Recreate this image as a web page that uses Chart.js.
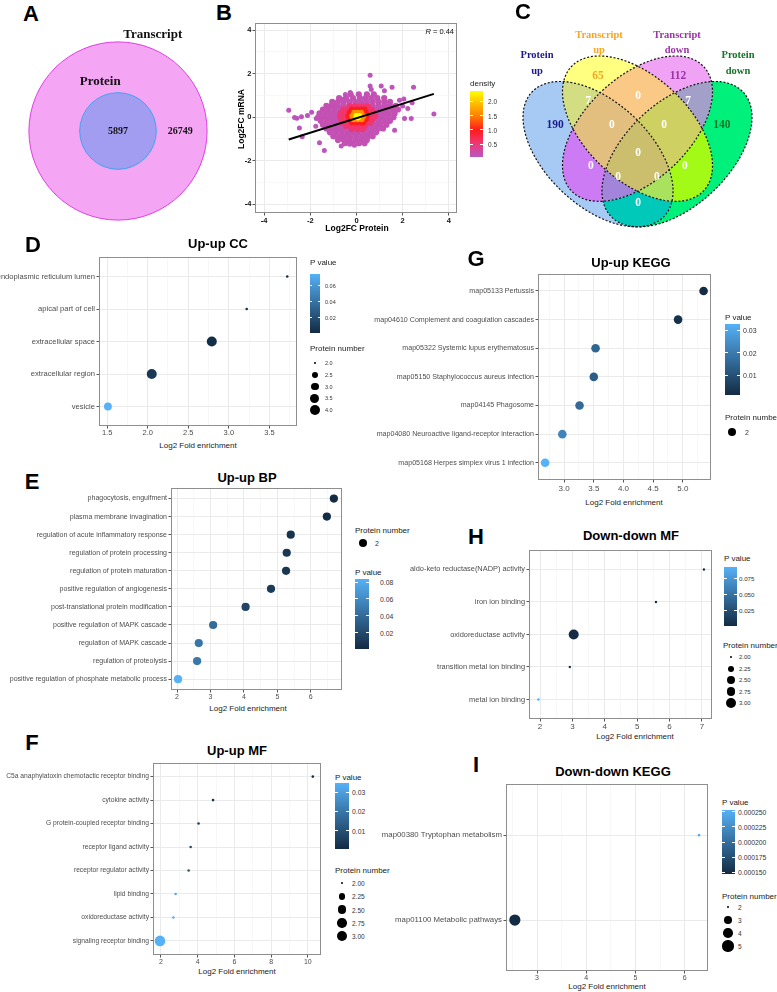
<!DOCTYPE html>
<html>
<head>
<meta charset="utf-8">
<script src="https://cdn.jsdelivr.net/npm/chart.js@4.4.1/dist/chart.umd.min.js"></script>
<style>
  html, body { margin: 0; padding: 0; background: #fff; }
  body { position: relative; width: 777px; height: 992px; overflow: hidden; font-family: "Liberation Sans", Arial, sans-serif; }
  canvas { position: absolute; }
  .t { position: absolute; white-space: nowrap; line-height: 1; }
</style>
</head>
<body>
<script>
// ---------------- data ----------------
// A: transcripts vs proteins
const aSets = ['Transcript', 'Protein'];
const aCounts = [26749, 5897];

// B: log2FC protein vs mRNA
const bTicks = [-4, -2, 0, 2, 4];
const bR = 0.44;
const bFitX = [-2.93, 3.35];
const bFitY = [-1.03, 1.07];
const bDensTicks = [0.5, 1.0, 1.5, 2.0];
const bOutliers = [[-2.93,0.32],[-2.68,-0.02],[-2.58,-0.05],[-2.47,-0.5],[-2.38,0.02],[-2.35,-0.9],[-2.12,0.08],[-1.94,0.22],
  [-1.76,-0.42],[-1.74,-0.06],[-1.55,-0.14],[-1.6,-1.18],[-1.39,-1.53],[-1.1,0.55],[-0.95,0.64],[-0.56,0.82],[-0.48,1.04],
  [-0.27,1.13],[0.59,1.93],[0.59,1.43],[0.64,1.27],[1.07,1.43],[1.21,1.21],[1.54,1.37],[1.86,0.78],[2.05,0.83],[2.22,0.4],
  [2.47,1.37],[2.41,0.66],[2.37,-0.06],[2.08,-0.06],[3.35,0.14],[1.65,-0.6],[1.43,0.55],[1.65,0.32],[2.0,0.51],[0.85,-0.45],
  [0.49,-0.83],[0.13,-1.21],[-0.45,-1.13],[-0.66,-1.33],[-0.09,-1.29],[0.35,-1.15],[-0.3,-1.25]];
const bBodyY = [1.05, 0.88, 0.7, 0.52, 0.35, 0.17, 0.0, -0.17, -0.35, -0.52, -0.7, -0.88, -1.05, -1.2];
const bBodyX = [
  [-0.25, 0.1, 0.45, 0.75],
  [-0.75, -0.45, -0.15, 0.15, 0.4, 0.65, 0.9, 1.2],
  [-1.05, -0.8, -0.55, -0.3, -0.05, 0.2, 0.45, 0.7, 0.95, 1.2, 1.45],
  [-1.3, -1.05, -0.8, -0.55, -0.3, -0.05, 0.2, 0.45, 0.7, 0.95, 1.2, 1.45, 1.7],
  [-1.45, -1.2, -0.95, -0.7, -0.45, -0.2, 0.05, 0.3, 0.55, 0.8, 1.05, 1.3, 1.55, 1.8],
  [-1.6, -1.35, -1.1, -0.85, -0.6, -0.35, -0.1, 0.15, 0.4, 0.65, 0.9, 1.15, 1.4, 1.65],
  [-1.65, -1.4, -1.15, -0.9, -0.65, -0.4, -0.15, 0.1, 0.35, 0.6, 0.85, 1.1, 1.35, 1.6],
  [-1.55, -1.3, -1.05, -0.8, -0.55, -0.3, -0.05, 0.2, 0.45, 0.7, 0.95, 1.2, 1.45],
  [-1.45, -1.2, -0.95, -0.7, -0.45, -0.2, 0.05, 0.3, 0.55, 0.8, 1.05, 1.3],
  [-1.3, -1.05, -0.8, -0.55, -0.3, -0.05, 0.2, 0.45, 0.7, 0.95, 1.15],
  [-1.15, -0.9, -0.65, -0.4, -0.15, 0.1, 0.35, 0.6, 0.85],
  [-1.0, -0.75, -0.5, -0.25, 0.0, 0.25, 0.5, 0.7],
  [-0.8, -0.55, -0.3, -0.05, 0.2, 0.45],
  [-0.5, -0.2, 0.1, 0.35]];
const bMid = [[-0.3,0.5],[-0.1,0.5],[0.1,0.5],[0.3,0.5],[0.5,0.5],[-0.55,0.35],[-0.35,0.35],[0.45,0.35],[0.65,0.35],
  [-0.65,0.2],[-0.45,0.2],[0.55,0.2],[0.75,0.2],[-0.7,0.05],[-0.5,0.05],[0.6,0.05],[0.8,0.05],[-0.65,-0.1],[-0.45,-0.1],
  [0.55,-0.1],[0.7,-0.1],[-0.6,-0.25],[-0.4,-0.25],[0.45,-0.25],[0.6,-0.25],[-0.45,-0.4],[-0.25,-0.4],[-0.05,-0.4],
  [0.15,-0.4],[0.35,-0.4],[-0.2,-0.55],[0.05,-0.55],[0.25,-0.55]];
const bRed = [[-0.2,0.35],[0,0.35],[0.2,0.35],[0.35,0.35],[-0.3,0.2],[0.4,0.2],[-0.35,0.05],[0.45,0.05],[-0.3,-0.1],
  [0.4,-0.1],[-0.2,-0.25],[0,-0.25],[0.2,-0.25],[0.3,-0.25]];
const bOrange = [[-0.1,0.2],[0.05,0.2],[0.2,0.2],[-0.18,0.05],[0.3,0.05],[-0.12,-0.1],[0.05,-0.1],[0.22,-0.1]];
const bCore = [[0,0.05],[0.12,0.05],[0.06,-0.02]];
const bBandDensity = [0.05, 0.12, 0.55, 1.0, 1.6, 2.36]; // outliers, body, mid, red, orange, core

// C: four-set overlap
const vennSets = ['Protein up', 'Transcript up', 'Transcript down', 'Protein down'];
const vennRegions = [1, 2, 4, 8, 3, 12, 6, 7, 14, 15, 5, 13, 11, 10, 9]; // bit mask: B=1 Y=2 P=4 G=8
const vennCounts = [190, 65, 112, 140, 7, 7, 0, 0, 0, 0, 0, 0, 0, 0, 0];

// D: Up-up CC
const dCats = ['endoplasmic reticulum lumen', 'apical part of cell', 'extracellular space', 'extracellular region', 'vesicle'];
const dFold = [3.72, 3.22, 2.79, 2.05, 1.51];
const dPval = [0.0012, 0.006, 0.003, 0.009, 0.075];
const dCount = [2, 2, 4, 4, 3];
const dTicks = [1.5, 2.0, 2.5, 3.0, 3.5];
const dPTicks = [0.02, 0.04, 0.06];
const dNTicks = [2.0, 2.5, 3.0, 3.5, 4.0];

// E: Up-up BP
const eCats = ['phagocytosis, engulfment', 'plasma membrane invagination', 'regulation of acute inflammatory response',
  'regulation of protein processing', 'regulation of protein maturation', 'positive regulation of angiogenesis',
  'post-translational protein modification', 'positive regulation of MAPK cascade', 'regulation of MAPK cascade',
  'regulation of proteolysis', 'positive regulation of phosphate metabolic process'];
const eFold = [6.69, 6.48, 5.40, 5.28, 5.26, 4.81, 4.05, 3.08, 2.65, 2.60, 2.03];
const ePval = [0.0005, 0.002, 0.006, 0.008, 0.008, 0.011, 0.016, 0.040, 0.047, 0.048, 0.0836];
const eCount = [2, 2, 2, 2, 2, 2, 2, 2, 2, 2, 2];
const eTicks = [2, 3, 4, 5, 6];
const ePTicks = [0.02, 0.04, 0.06, 0.08];
const eNTicks = [2];

// F: Up-up MF
const fCats = ['C5a anaphylatoxin chemotactic receptor binding', 'cytokine activity', 'G protein-coupled receptor binding',
  'receptor ligand activity', 'receptor regulator activity', 'lipid binding', 'oxidoreductase activity', 'signaling receptor binding'];
const fFold = [10.27, 4.84, 4.05, 3.62, 3.51, 2.80, 2.68, 1.95];
const fPval = [0.0005, 0.002, 0.006, 0.009, 0.012, 0.033, 0.034, 0.0347];
const fCount = [2, 2, 2, 2, 2, 2, 2, 3];
const fTicks = [2, 4, 6, 8, 10];
const fPTicks = [0.01, 0.02, 0.03];
const fNTicks = [2.00, 2.25, 2.50, 2.75, 3.00];

// G: Up-up KEGG
const gCats = ['map05133 Pertussis', 'map04610 Complement and coagulation cascades', 'map05322 Systemic lupus erythematosus',
  'map05150 Staphylococcus aureus infection', 'map04145 Phagosome', 'map04080 Neuroactive ligand-receptor interaction',
  'map05168 Herpes simplex virus 1 infection'];
const gFold = [5.35, 4.92, 3.53, 3.50, 3.26, 2.97, 2.68];
const gPval = [0.0011, 0.0025, 0.015, 0.013, 0.016, 0.022, 0.0327];
const gCount = [2, 2, 2, 2, 2, 2, 2];
const gTicks = [3.0, 3.5, 4.0, 4.5, 5.0];
const gPTicks = [0.01, 0.02, 0.03];
const gNTicks = [2];

// H: Down-down MF
const hCats = ['aldo-keto reductase(NADP) activity', 'iron ion binding', 'oxidoreductase activity', 'transition metal ion binding', 'metal ion binding'];
const hFold = [7.06, 5.58, 3.04, 2.92, 1.95];
const hPval = [0.001, 0.003, 0.002, 0.006, 0.092];
const hCount = [2, 2, 3, 2, 2];
const hTicks = [2, 3, 4, 5, 6, 7];
const hPTicks = [0.025, 0.050, 0.075];
const hNTicks = [2.00, 2.25, 2.50, 2.75, 3.00];

// I: Down-down KEGG
const iCats = ['map00380 Tryptophan metabolism', 'map01100 Metabolic pathways'];
const iFold = [6.29, 2.55];
const iPval = [0.000253, 0.000147];
const iCount = [2, 5];
const iTicks = [3, 4, 5, 6];
const iPTicks = [0.000150, 0.000175, 0.000200, 0.000225, 0.000250];
const iNTicks = [2, 3, 4, 5];

// ---------------- helpers ----------------
Chart.defaults.font.family = "'Liberation Sans', Arial, sans-serif";
Chart.defaults.animation = false;
Chart.defaults.responsive = false;
Chart.defaults.plugins.legend.display = false;
Chart.defaults.plugins.tooltip.enabled = false;
Chart.defaults.events = [];

const SANS = "'Liberation Sans', Arial, sans-serif";
const SERIF = "'Liberation Serif', 'Times New Roman', serif";

function txt(s, x, y, font, align, color, rot) {
  const d = document.createElement('div');
  d.className = 't';
  d.innerHTML = s;
  d.style.left = x + 'px';
  d.style.top = y + 'px';
  d.style.font = font;
  d.style.color = color || '#000';
  const tx = align === 'l' ? '0' : align === 'r' ? '-100%' : '-50%';
  d.style.transform = `translate(${tx},-50%)` + (rot ? ` rotate(${rot}deg)` : '');
  document.body.appendChild(d);
  return d;
}
function box(l, t, w, h, css) {
  const d = document.createElement('div');
  d.style.cssText = `position:absolute;left:${l}px;top:${t}px;width:${w}px;height:${h}px;` + css;
  document.body.appendChild(d);
  return d;
}
function canvasAt(l, t, w, h) {
  const c = document.createElement('canvas');
  c.width = w; c.height = h;
  c.style.left = l + 'px'; c.style.top = t + 'px';
  c.style.width = w + 'px'; c.style.height = h + 'px';
  document.body.appendChild(c);
  return c;
}

const P_LO = [19, 43, 67], P_HI = [86, 177, 247];
function pCol(t) {
  return 'rgb(' + P_LO.map((v, i) => Math.round(v + (P_HI[i] - v) * t)).join(',') + ')';
}
const densStops = [[0, [182, 88, 196]], [0.5, [238, 56, 120]], [1.0, [255, 28, 28]], [1.5, [255, 130, 0]], [2.0, [255, 200, 0]], [2.36, [255, 255, 0]]];
function densCol(d) {
  for (let i = 1; i < densStops.length; i++) {
    if (d <= densStops[i][0]) {
      const [d0, c0] = densStops[i - 1], [d1, c1] = densStops[i];
      const t = (d - d0) / (d1 - d0);
      return 'rgb(' + c0.map((v, k) => Math.round(v + (c1[k] - v) * t)).join(',') + ')';
    }
  }
  return 'rgb(255,255,0)';
}

const isMinor = c => c.tick && c.tick.minor;
const gridOpts = {
  color: c => isMinor(c) ? '#F4F4F4' : '#EAEAEA',
  lineWidth: c => isMinor(c) ? 0.6 : 1,
  tickLength: 2.5,
  tickColor: c => isMinor(c) ? 'rgba(0,0,0,0)' : '#555'
};
const frame = {
  id: 'frame',
  afterDraw(chart) {
    const { ctx, chartArea: a } = chart;
    ctx.save();
    ctx.strokeStyle = '#8e8e8e';
    ctx.lineWidth = 1;
    ctx.strokeRect(Math.round(a.left) + 0.5, Math.round(a.top) + 0.5, Math.round(a.width) - 1, Math.round(a.height) - 1);
    ctx.restore();
  }
};

function dotPlot(o) {
  const cl = o.cl || 0, ct = o.pt - 4, cr = o.pr + 4, cb = o.pb + 15;
  const cv = canvasAt(cl, ct, cr - cl, cb - ct);
  const pmin = Math.min(...o.pval), pmax = Math.max(...o.pval);
  const nmin = Math.min(...o.count), nmax = Math.max(...o.count);
  const rad = n => nmax === nmin ? o.rOne : o.rMin + (o.rMax - o.rMin) * Math.sqrt((n - nmin) / (nmax - nmin));
  const half = (o.ticks[1] - o.ticks[0]) / 2;
  const xt = [];
  for (let k = -1; k <= 2 * o.ticks.length; k++) {
    const v = +(o.ticks[0] + k * half).toFixed(6);
    if (v >= o.xMin && v <= o.xMax) xt.push(v);
  }
  const isMajor = v => o.ticks.some(t => Math.abs(t - v) < 1e-6);
  new Chart(cv, {
    type: 'bubble',
    data: { datasets: [{
      data: o.cats.map((c, i) => ({ x: o.fold[i], y: i, r: rad(o.count[i]) })),
      backgroundColor: o.pval.map(p => pCol((p - pmin) / (pmax - pmin))),
      borderWidth: 0
    }] },
    options: {
      layout: { padding: { top: o.pt - ct, right: cr - o.pr, left: 0, bottom: 0 } },
      scales: {
        x: {
          type: 'linear', min: o.xMin, max: o.xMax,
          afterBuildTicks: s => { s.ticks = xt.map(v => ({ value: v, minor: !isMajor(v) })); },
          afterFit: s => { s.height = cb - o.pb; },
          ticks: { autoSkip: false, maxRotation: 0, padding: o.xPad, color: '#4d4d4d', font: { size: o.xFont },
                   callback: v => isMajor(v) ? v.toFixed(o.dec) : '' },
          grid: gridOpts, border: { display: false }
        },
        y: {
          type: 'linear', min: -0.6, max: o.cats.length - 0.4, reverse: true,
          afterBuildTicks: s => { s.ticks = o.cats.map((c, i) => ({ value: i })); },
          afterFit: s => { s.width = o.pl - cl; },
          ticks: { autoSkip: false, padding: 1.5, color: '#4d4d4d', font: { size: o.catFont }, callback: v => o.cats[v] },
          grid: gridOpts, border: { display: false }
        }
      }
    },
    plugins: [frame]
  });
  return { rad, pmin, pmax };
}

function pLegend(o) {
  txt('P value', o.x, o.ty, `8px ${SANS}`, 'l', '#222');
  box(o.x, o.top, o.w, o.bot - o.top, 'background:linear-gradient(to top, rgb(19,43,67), rgb(86,177,247))');
  o.ticks.forEach(t => {
    const y = o.bot - (t - o.pmin) / (o.pmax - o.pmin) * (o.bot - o.top);
    box(o.x, y - 0.5, o.w / 5, 1, 'background:#fff');
    box(o.x + o.w - o.w / 5, y - 0.5, o.w / 5, 1, 'background:#fff');
    txt(t.toFixed(o.dec), o.lx, y, `${o.fs}px ${SANS}`, 'l', '#333');
  });
}
function nLegend(o) {
  txt('Protein number', o.x, o.ty, `8px ${SANS}`, 'l', '#222');
  o.vals.forEach((v, i) => {
    const y = o.y0 + i * o.dy, r = o.rad(v);
    box(o.dx - r, y - r, 2 * r, 2 * r, 'background:#000;border-radius:50%');
    txt(v.toFixed(o.dec), o.lx, y, `${o.fs}px ${SANS}`, 'l', '#333');
  });
}
function heads(letter, lx, ly, title, tx, ty, axx, axy) {
  txt(letter, lx, ly, `bold 22px ${SANS}`, 'c');
  txt(title, tx, ty, `bold 13px ${SANS}`, 'c');
  txt('Log2 Fold enrichment', axx, axy, `8px ${SANS}`, 'c', '#222');
}

// ---------------- A ----------------
txt('A', 31, 14, `bold 22px ${SANS}`, 'c');
(function () {
  const cv = canvasAt(20, 20, 196, 222);
  const radii = [1, 0.43];
  const rpx = (chart, r) => chart.scales.x.getPixelForValue(r) - chart.scales.x.getPixelForValue(0);
  const labels = {
    id: 'alabels',
    afterDatasetsDraw(chart) {
      const { ctx } = chart, sx = chart.scales.x, sy = chart.scales.y;
      ctx.save();
      ctx.fillStyle = '#111';
      ctx.textAlign = 'center'; ctx.textBaseline = 'middle';
      ctx.font = `bold 13px ${SERIF}`;
      ctx.fillText(aSets[0], sx.getPixelForValue(0.39), sy.getPixelForValue(1.08));
      ctx.fillText(aSets[1], sx.getPixelForValue(-0.2), sy.getPixelForValue(0.55));
      ctx.font = `bold 10px ${SERIF}`;
      ctx.fillText(String(aCounts[1]), sx.getPixelForValue(0), sy.getPixelForValue(0));
      ctx.fillText(String(aCounts[0]), sx.getPixelForValue(0.7), sy.getPixelForValue(0));
      ctx.restore();
    }
  };
  new Chart(cv, {
    type: 'scatter',
    data: { datasets: [
      { data: [{ x: 0, y: 0 }], pointRadius: c => rpx(c.chart, radii[0]), backgroundColor: '#F4A5F4', borderColor: '#E03CE6', borderWidth: 1, clip: false, order: 2 },
      { data: [{ x: 0, y: 0 }], pointRadius: c => rpx(c.chart, radii[1]), backgroundColor: '#A29DF0', borderColor: '#3EA4F2', borderWidth: 1, clip: false, order: 1 }
    ] },
    options: {
      layout: { padding: 0 },
      scales: { x: { display: false, min: -1.1, max: 1.1 }, y: { display: false, min: -1.247, max: 1.247 } }
    },
    plugins: [labels]
  });
})();

// ---------------- B ----------------
txt('B', 224, 13, `bold 22px ${SANS}`, 'c');
(function () {
  const L = 225, T = 15, R = 462, Bt = 224, pl = 255, pt = 23, pr = 457, pb = 213;
  const cv = canvasAt(L, T, R - L, Bt - T);
  const pts = [], cols = [], rads = [];
  const add = (pairs, band, r) => pairs.forEach(p => {
    pts.push({ x: p[0], y: p[1] }); cols.push(densCol(bBandDensity[band])); rads.push(r);
  });
  add(bOutliers, 0, 2.5);
  bBodyY.forEach((y, i) => add(bBodyX[i].map(x => [x, y]), 1, 3.1));
  add(bMid, 2, 3.1);
  add(bRed, 3, 3.0);
  add(bOrange, 4, 3.0);
  add(bCore, 5, 3.0);
  const all = [-4, -3, -2, -1, 0, 1, 2, 3, 4];
  const axis = (min, max, fit) => ({
    type: 'linear', min, max,
    afterBuildTicks: s => { s.ticks = all.map(v => ({ value: v, minor: !bTicks.includes(v) })); },
    afterFit: fit,
    ticks: { autoSkip: false, maxRotation: 0, padding: 1, color: '#111', font: { size: 7.5, weight: 'bold' },
             callback: v => bTicks.includes(v) ? String(v) : '' },
    grid: gridOpts, border: { display: false }
  });
  new Chart(cv, {
    type: 'scatter',
    data: { datasets: [
      { type: 'line', data: bFitX.map((x, i) => ({ x, y: bFitY[i] })), borderColor: '#000', borderWidth: 2, pointRadius: 0, order: 0 },
      { data: pts, backgroundColor: cols, pointRadius: rads, borderWidth: 0, order: 1 }
    ] },
    options: {
      layout: { padding: { top: pt - T, right: R - pr, left: 0, bottom: 0 } },
      scales: {
        x: axis(-4.39, 4.35, s => { s.height = Bt - pb; }),
        y: axis(-4.41, 4.33, s => { s.width = pl - L; })
      }
    },
    plugins: [frame]
  });
  txt('<i>R</i> = ' + bR.toFixed(2), 454, 31, `7.5px ${SANS}`, 'r', '#111');
  txt('Log2FC Protein', 357, 228, `bold 8.5px ${SANS}`, 'c');
  txt('Log2FC mRNA', 241, 119, `bold 8.5px ${SANS}`, 'c', '#000', -90);
  // density colour bar
  const dmin = bBandDensity[0], dmax = bBandDensity[5], top = 91, bot = 157;
  const stops = densStops.map(s => `rgb(${s[1].join(',')}) ${Math.max(0, (s[0] - dmin) / (dmax - dmin) * 100).toFixed(1)}%`).join(',');
  txt('density', 470, 83, `8px ${SANS}`, 'l', '#222');
  box(470, top, 13, bot - top, `background:linear-gradient(to top, ${stops})`);
  bDensTicks.forEach(t => {
    const y = bot - (t - dmin) / (dmax - dmin) * (bot - top);
    box(470, y - 0.5, 2.6, 1, 'background:#fff');
    box(480.4, y - 0.5, 2.6, 1, 'background:#fff');
    txt(t.toFixed(1), 488, y, `6.5px ${SANS}`, 'l', '#333');
  });
})();

// ---------------- C ----------------
txt('C', 523, 12, `bold 22px ${SANS}`, 'c');
(function () {
  const cv = canvasAt(515, 50, 245, 185);
  const geo = { cx: [0.35, 0.5, 0.5, 0.65], cy: [0.47, 0.57, 0.57, 0.47], rot: [135, 135, 45, 45], a: 0.35, b: 0.2 };
  const labX = [0.187, 0.350, 0.654, 0.821, 0.312, 0.692, 0.502, 0.403, 0.601, 0.502, 0.323, 0.426, 0.574, 0.680, 0.502];
  const labY = [0.584, 0.777, 0.777, 0.584, 0.679, 0.679, 0.698, 0.584, 0.584, 0.475, 0.424, 0.380, 0.380, 0.424, 0.279];
  const regionCol = { 1: '#A6CAF4', 2: '#FFFF80', 4: '#F0A2F4', 8: '#00F07C', 3: '#D3DE82', 12: '#A29FC9', 6: '#F9C985',
    7: '#E2BF7E', 14: '#CFD062', 15: '#CBBE6C', 5: '#CC7BF4', 13: '#A284DA', 11: '#A9E25C', 10: '#A2FA16', 9: '#00C9BA' };
  const numCol = ['#1B1B8E', '#F5A623', '#9A35A5', '#17752A'];
  function ell(chart, i) {
    const sx = chart.scales.x, sy = chart.scales.y, th = geo.rot[i] * Math.PI / 180;
    const p = new Path2D();
    for (let k = 0; k <= 200; k++) {
      const t = k / 200 * 2 * Math.PI;
      const X = geo.cx[i] + geo.a * Math.cos(t) * Math.cos(th) - geo.b * Math.sin(t) * Math.sin(th);
      const Y = geo.cy[i] + geo.a * Math.cos(t) * Math.sin(th) + geo.b * Math.sin(t) * Math.cos(th);
      const px = sx.getPixelForValue(X), py = sy.getPixelForValue(Y);
      if (k) p.lineTo(px, py); else p.moveTo(px, py);
    }
    p.closePath();
    return p;
  }
  const venn = {
    id: 'venn',
    beforeDatasetsDraw(chart) {
      const { ctx, width: W, height: H } = chart;
      vennRegions.forEach(m => {
        ctx.save();
        for (let i = 0; i < 4; i++) {
          const e = ell(chart, i);
          if (m & (1 << i)) ctx.clip(e);
          else { const q = new Path2D(); q.rect(-5, -5, W + 10, H + 10); q.addPath(e); ctx.clip(q, 'evenodd'); }
        }
        ctx.fillStyle = regionCol[m];
        ctx.fillRect(0, 0, W, H);
        ctx.restore();
      });
      ctx.save();
      ctx.strokeStyle = '#111'; ctx.lineWidth = 1.2; ctx.setLineDash([2, 1.8]);
      for (let i = 0; i < 4; i++) ctx.stroke(ell(chart, i));
      ctx.restore();
    },
    afterDatasetsDraw(chart) {
      const { ctx } = chart, sx = chart.scales.x, sy = chart.scales.y;
      ctx.save();
      ctx.textAlign = 'center'; ctx.textBaseline = 'middle';
      ctx.font = `bold 11.5px ${SERIF}`;
      vennCounts.forEach((n, i) => {
        ctx.fillStyle = i < 4 ? numCol[i] : '#fff';
        ctx.fillText(String(n), sx.getPixelForValue(labX[i]), sy.getPixelForValue(labY[i]));
      });
      ctx.restore();
    }
  };
  new Chart(cv, {
    type: 'scatter',
    data: { datasets: [{ data: labX.map((x, i) => ({ x, y: labY[i] })), pointRadius: 0 }] },
    options: {
      layout: { padding: 0 },
      scales: { x: { display: false, min: 0.0346, max: 0.9654 }, y: { display: false, min: 0.153, max: 0.8785 } }
    },
    plugins: [venn]
  });
  const f = `bold 10.5px ${SERIF}`;
  const [pu, tu, td, pd] = vennSets.map(s => s.split(' '));
  txt(pu[0], 537, 54, f, 'c', numCol[0]); txt(pu[1], 537, 70, f, 'c', numCol[0]);
  txt(tu[0], 599, 34, f, 'c', numCol[1]); txt(tu[1], 599, 49, f, 'c', numCol[1]);
  txt(td[0], 677, 34, f, 'c', numCol[2]); txt(td[1], 677, 49, f, 'c', numCol[2]);
  txt(pd[0], 738, 54, f, 'c', numCol[3]); txt(pd[1], 738, 70, f, 'c', numCol[3]);
})();

// ---------------- D ----------------
heads('D', 33, 245, 'Up-up CC', 218, 243, 198, 445);
(function () {
  const s = dotPlot({ cats: dCats, fold: dFold, pval: dPval, count: dCount, ticks: dTicks, dec: 1,
    xMin: 1.40, xMax: 3.84, pl: 99, pt: 255, pr: 298, pb: 426, catFont: 7.6, xFont: 7.5, xPad: 0, rMin: 1.3, rMax: 5.0 });
  pLegend({ x: 310, ty: 262, top: 274, bot: 333, w: 10, ticks: dPTicks, dec: 2, lx: 325, fs: 5.5, pmin: s.pmin, pmax: s.pmax });
  nLegend({ x: 310, ty: 348, vals: dNTicks, y0: 363, dy: 11.75, dx: 315, lx: 325, rad: s.rad, dec: 1, fs: 5.5 });
})();

// ---------------- E ----------------
heads('E', 32, 482, 'Up-up BP', 247, 477, 248, 708);
(function () {
  const s = dotPlot({ cats: eCats, fold: eFold, pval: ePval, count: eCount, ticks: eTicks, dec: 0,
    xMin: 1.82, xMax: 6.93, pl: 171, pt: 486, pr: 342, pb: 690, catFont: 7, xFont: 7, xPad: 0.6, rOne: 4.1 });
  nLegend({ x: 355, ty: 530, vals: eNTicks, y0: 543, dy: 12, dx: 363, lx: 375, rad: s.rad, dec: 0, fs: 7 });
  pLegend({ x: 355, ty: 572, top: 579, bot: 649, w: 14, ticks: ePTicks, dec: 2, lx: 380, fs: 6.8, pmin: s.pmin, pmax: s.pmax });
})();

// ---------------- F ----------------
heads('F', 32, 743, 'Up-up MF', 237, 750, 237, 971);
(function () {
  const s = dotPlot({ cats: fCats, fold: fFold, pval: fPval, count: fCount, ticks: fTicks, dec: 0,
    xMin: 1.57, xMax: 10.7, pl: 153, pt: 761, pr: 322, pb: 955, catFont: 6.7, xFont: 7, xPad: 0, rMin: 1.3, rMax: 5.3 });
  pLegend({ x: 335, ty: 777, top: 783, bot: 849, w: 14, ticks: fPTicks, dec: 2, lx: 352, fs: 6.8, pmin: s.pmin, pmax: s.pmax });
  nLegend({ x: 335, ty: 870, vals: fNTicks, y0: 883, dy: 13.3, dx: 342, lx: 352, rad: s.rad, dec: 2, fs: 6.5 });
})();

// ---------------- G ----------------
heads('G', 476, 259, 'Up-up KEGG', 631, 262, 624, 502);
(function () {
  const s = dotPlot({ cl: 355, cats: gCats, fold: gFold, pval: gPval, count: gCount, ticks: gTicks, dec: 1,
    xMin: 2.56, xMax: 5.47, pl: 538, pt: 272, pr: 711, pb: 480, catFont: 7.1, xFont: 8, xPad: 1.5, rOne: 4.3 });
  pLegend({ x: 725, ty: 317, top: 324, bot: 395, w: 15, ticks: gPTicks, dec: 2, lx: 743, fs: 7, pmin: s.pmin, pmax: s.pmax });
  nLegend({ x: 725, ty: 417, vals: gNTicks, y0: 432, dy: 12, dx: 732, lx: 745, rad: s.rad, dec: 0, fs: 7 });
})();

// ---------------- H ----------------
heads('H', 476, 537, 'Down-down MF', 631, 535, 635, 736);
(function () {
  const s = dotPlot({ cl: 390, cats: hCats, fold: hFold, pval: hPval, count: hCount, ticks: hTicks, dec: 0,
    xMin: 1.66, xMax: 7.31, pl: 529, pt: 548, pr: 713, pb: 719, catFont: 7.4, xFont: 8, xPad: 0, rMin: 1.2, rMax: 5.0 });
  pLegend({ x: 724, ty: 558, top: 567, bot: 626, w: 13, ticks: hPTicks, dec: 3, lx: 739, fs: 6.2, pmin: s.pmin, pmax: s.pmax });
  nLegend({ x: 723, ty: 645, vals: hNTicks, y0: 657, dy: 11.6, dx: 731, lx: 739, rad: s.rad, dec: 2, fs: 6 });
})();

// ---------------- I ----------------
heads('I', 476, 765, 'Down-down KEGG', 613, 771, 607, 986);
(function () {
  const s = dotPlot({ cl: 370, cats: iCats, fold: iFold, pval: iPval, count: iCount, ticks: iTicks, dec: 0,
    xMin: 2.37, xMax: 6.48, pl: 506, pt: 782, pr: 710, pb: 971, catFont: 7.8, xFont: 7, xPad: 0, rMin: 1.3, rMax: 5.6 });
  pLegend({ x: 722, ty: 802, top: 810, bot: 874, w: 13, ticks: iPTicks, dec: 6, lx: 738, fs: 6.8, pmin: s.pmin, pmax: s.pmax });
  nLegend({ x: 722, ty: 896, vals: iNTicks, y0: 907, dy: 13, dx: 728, lx: 738, rad: s.rad, dec: 0, fs: 6.5 });
})();
</script>
</body>
</html>
